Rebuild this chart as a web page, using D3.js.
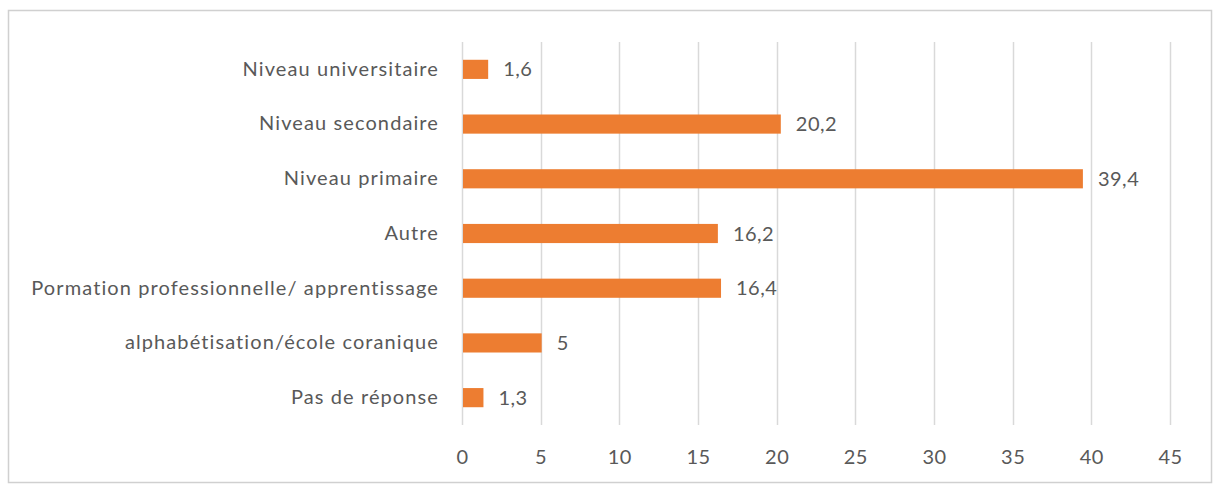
<!DOCTYPE html>
<html>
<head>
<meta charset="utf-8">
<script src="https://cdn.jsdelivr.net/npm/d3@7"></script>
<style>
  body { margin: 0; background: #fff; }
  text { font-family: Lato, "Open Sans", sans-serif; fill: #595959; }
</style>
</head>
<body>
<div id="chart"></div>
<script>
// Data
const categories = [
    "Niveau universitaire",
    "Niveau secondaire",
    "Niveau primaire",
    "Autre",
    "Pormation professionnelle/ apprentissage",
    "alphabétisation/école coranique",
    "Pas de réponse"
];
const values = [1.6, 20.2, 39.4, 16.2, 16.4, 5, 1.3];
const valueLabels = ["1,6", "20,2", "39,4", "16,2", "16,4", "5", "1,3"];
const xTicks = [0, 5, 10, 15, 20, 25, 30, 35, 40, 45];

const W = 1215, H = 486;
const margin = { top: 42, right: 45, bottom: 61, left: 462 };
const width = W - margin.left - margin.right;
const height = H - margin.top - margin.bottom;

const root = d3.select("#chart")
    .append("svg")
    .attr("width", W)
    .attr("height", H);

// chart frame
root.append("rect")
    .attr("x", 8.5)
    .attr("y", 10.5)
    .attr("width", 1203)
    .attr("height", 472)
    .attr("fill", "#fff")
    .attr("stroke", "#d0d0d0")
    .attr("stroke-width", 1.5);

const svg = root.append("g")
    .attr("transform", `translate(${margin.left},${margin.top})`);

const x = d3.scaleLinear()
    .domain([0, 45])
    .range([0, width]);

const y = d3.scaleBand()
    .domain(categories)
    .range([0, height])
    .paddingInner(0.65)
    .paddingOuter(0.325);

// vertical gridlines
svg.append("g")
    .selectAll("line")
    .data(xTicks)
    .enter()
    .append("line")
    .attr("x1", d => Math.round(x(d)) + 0.5)
    .attr("x2", d => Math.round(x(d)) + 0.5)
    .attr("y1", 0)
    .attr("y2", height)
    .attr("stroke", "#d9d9d9")
    .attr("stroke-width", 1.5);

// x axis labels
const xAxis = svg.append("g")
    .attr("transform", `translate(0,${height})`)
    .call(d3.axisBottom(x).tickValues(xTicks).tickSize(0).tickPadding(25));
xAxis.select(".domain").remove();
xAxis.selectAll("text")
    .style("font-size", "20px")
    .style("font-family", "Lato, 'Open Sans', sans-serif")
    .style("letter-spacing", "0.5px")
    .attr("fill", "#595959");

// y axis labels
const yAxis = svg.append("g")
    .call(d3.axisLeft(y).tickSize(0).tickPadding(23));
yAxis.select(".domain").remove();
yAxis.selectAll("text")
    .style("font-size", "20px")
    .style("font-family", "Lato, 'Open Sans', sans-serif")
    .style("letter-spacing", "1.1px")
    .attr("fill", "#595959");

// bars
svg.selectAll(".bar")
    .data(values)
    .enter()
    .append("rect")
    .attr("class", "bar")
    .attr("x", x(0) + 1)
    .attr("y", (d, i) => y(categories[i]))
    .attr("width", d => x(d) - x(0))
    .attr("height", y.bandwidth())
    .attr("fill", "#ED7D31");

// value labels
svg.selectAll(".val")
    .data(values)
    .enter()
    .append("text")
    .attr("class", "val")
    .attr("x", d => x(d) + 16)
    .attr("y", (d, i) => y(categories[i]) + y.bandwidth() / 2)
    .attr("dy", "0.35em")
    .style("font-size", "20px")
    .style("letter-spacing", "0.5px")
    .text((d, i) => valueLabels[i]);
</script>
</body>
</html>
